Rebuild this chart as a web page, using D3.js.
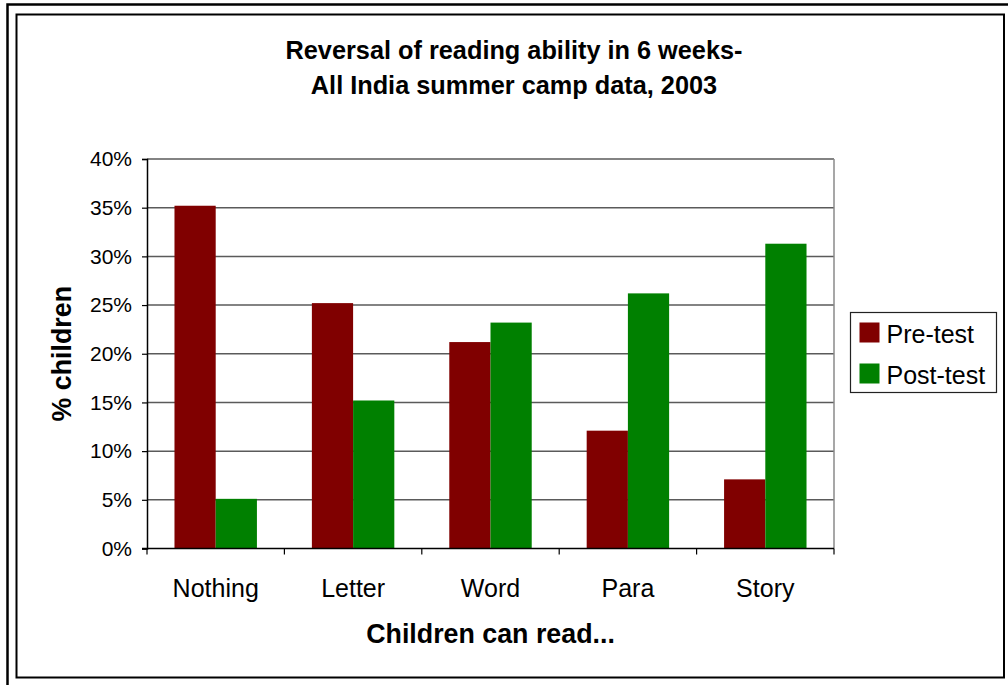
<!DOCTYPE html>
<html>
<head>
<meta charset="utf-8">
<script src="https://cdn.jsdelivr.net/npm/d3@7"></script>
<style>
  html, body { margin: 0; padding: 0; background: #fff; }
  svg { display: block; font-family: "Liberation Sans", Arial, sans-serif; }
</style>
</head>
<body>
<svg id="chart" width="1008" height="685"></svg>
<script>
// Reading levels reached by children, before and after the summer camp
const categories = ["Nothing", "Letter", "Word", "Para", "Story"];
const seriesNames = ["Pre-test", "Post-test"];
const preTest = [35.2, 25.2, 21.2, 12.1, 7.1];
const postTest = [5.1, 15.2, 23.2, 26.2, 31.3];
const yTicks = [0, 5, 10, 15, 20, 25, 30, 35, 40];
const seriesColors = ["#800000", "#008000"];
const titleLines = ["Reversal of reading ability in 6 weeks-", "All India summer camp data, 2003"];

const svg = d3.select("#chart");

// Outer and inner frames
svg.append("rect").attr("x", 7.5).attr("y", 4.5).attr("width", 1010).attr("height", 690)
  .attr("fill", "none").attr("stroke", "#000").attr("stroke-width", 2.5);
svg.append("rect").attr("x", 16.5).attr("y", 14.5).attr("width", 987.5).attr("height", 663)
  .attr("fill", "none").attr("stroke", "#000").attr("stroke-width", 2);

const plot = { left: 147, right: 834, top: 159, bottom: 548.5 };

const x0 = d3.scaleBand().domain(categories).range([plot.left, plot.right]).padding(0);
const bw = x0.bandwidth();
const x1 = d3.scaleBand().domain(seriesNames).range([bw * 0.2, bw * 0.8]).padding(0);
const y = d3.scaleLinear().domain([0, 40]).range([plot.bottom, plot.top]);

// Gridlines
svg.append("g").selectAll("line").data(yTicks.filter(d => d > 0)).join("line")
  .attr("x1", plot.left).attr("x2", plot.right)
  .attr("y1", d => y(d)).attr("y2", d => y(d))
  .attr("stroke", "#5a5a5a").attr("stroke-width", 1.5);

// Right edge of the plot area
svg.append("line").attr("x1", plot.right).attr("x2", plot.right)
  .attr("y1", plot.top).attr("y2", plot.bottom)
  .attr("stroke", "#8a8a8a").attr("stroke-width", 1.5);

// Bars
const groups = svg.append("g").selectAll("g").data(categories).join("g")
  .attr("transform", d => `translate(${x0(d)},0)`);
groups.selectAll("rect")
  .data((d, i) => [{ s: seriesNames[0], v: preTest[i] }, { s: seriesNames[1], v: postTest[i] }])
  .join("rect")
  .attr("x", d => x1(d.s))
  .attr("width", x1.bandwidth())
  .attr("y", d => y(d.v))
  .attr("height", d => y(0) - y(d.v))
  .attr("fill", (d, i) => seriesColors[i]);

// Y axis
const yAxis = d3.axisLeft(y).tickValues(yTicks).tickFormat(d => d + "%").tickSize(5).tickPadding(10);
const gy = svg.append("g").attr("transform", `translate(${plot.left},0)`).call(yAxis);
gy.select(".domain").attr("stroke", "#000").attr("stroke-width", 1.5);
gy.selectAll(".tick line").attr("stroke", "#000").attr("stroke-width", 1.2);
gy.selectAll(".tick text").attr("font-size", 21).attr("fill", "#000")
  .attr("font-family", "'Liberation Sans', Arial, sans-serif");

// X axis with ticks at category boundaries
const gx = svg.append("g").attr("transform", `translate(0,${plot.bottom})`);
gx.append("line").attr("x1", plot.left - 5).attr("x2", plot.right).attr("y1", 0).attr("y2", 0)
  .attr("stroke", "#000").attr("stroke-width", 1.5);
const bounds = categories.map(c => x0(c)).concat([plot.right]);
gx.selectAll("line.tk").data(bounds).join("line").attr("class", "tk")
  .attr("x1", d => d).attr("x2", d => d).attr("y1", 0).attr("y2", 6)
  .attr("stroke", "#000").attr("stroke-width", 1.2);
gx.selectAll("text").data(categories).join("text")
  .attr("x", d => x0(d) + bw / 2).attr("y", 48)
  .attr("text-anchor", "middle").attr("font-size", 25).attr("fill", "#000")
  .text(d => d);

// Titles
svg.append("g").selectAll("text").data(titleLines).join("text")
  .attr("x", 514).attr("y", (d, i) => 59 + i * 35)
  .attr("text-anchor", "middle").attr("font-size", 25.3).attr("font-weight", "bold")
  .text(d => d);

svg.append("text").attr("x", plot.left + (plot.right - plot.left) / 2).attr("y", 643)
  .attr("text-anchor", "middle").attr("font-size", 26.8).attr("font-weight", "bold")
  .text("Children can read...");

svg.append("text")
  .attr("transform", `translate(71,${(plot.top + plot.bottom) / 2}) rotate(-90)`)
  .attr("text-anchor", "middle").attr("font-size", 26.8).attr("font-weight", "bold")
  .text("% children");

// Legend
const lg = svg.append("g").attr("transform", "translate(850.5,312.5)");
lg.append("rect").attr("width", 146).attr("height", 80)
  .attr("fill", "#fff").attr("stroke", "#222").attr("stroke-width", 1.2);
const items = lg.selectAll("g").data(seriesNames).join("g")
  .attr("transform", (d, i) => `translate(9,${10 + i * 41})`);
items.append("rect").attr("width", 20).attr("height", 20).attr("fill", (d, i) => seriesColors[i]);
items.append("text").attr("x", 27).attr("y", 20).attr("font-size", 25).text(d => d);
</script>
</body>
</html>
